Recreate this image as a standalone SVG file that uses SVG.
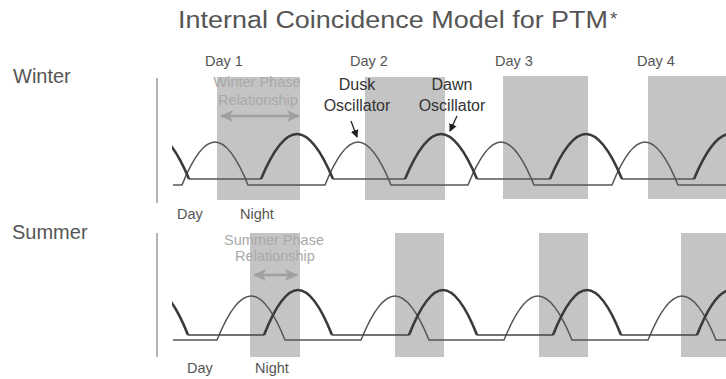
<svg xmlns="http://www.w3.org/2000/svg" width="726" height="379" viewBox="0 0 726 379">
<style>
text{font-family:"Liberation Sans",Arial,Helvetica,sans-serif;}
.lbl{fill:#555;}
.day{fill:#555;font-size:14.5px;}
.osc{fill:#333;font-size:16px;text-anchor:middle;}
.phase{fill:#a9a9a9;font-size:14.5px;text-anchor:middle;}
.night{fill:#c4c4c4;}
.axis{stroke:#9a9a9a;stroke-width:1.5;fill:none;}
.thin{stroke:#555;stroke-width:1.5;fill:none;}
.thick{stroke:#3a3a3a;stroke-width:2.6;fill:none;}
.base{stroke:#444;stroke-width:1.6;fill:none;}
.parrow{stroke:#a0a0a0;stroke-width:2.5;fill:none;}
.oarrow{stroke:#222;stroke-width:1.3;fill:none;}
</style>
<defs>
<clipPath id="plot"><rect x="172" y="0" width="554" height="379"/></clipPath>
<marker id="ph" markerUnits="userSpaceOnUse" markerWidth="14" markerHeight="12" refX="12" refY="6" orient="auto-start-reverse">
<path d="M0,0 L13,6 L0,12 L3,6 Z" fill="#a0a0a0"/>
</marker>
<marker id="oh" markerUnits="userSpaceOnUse" markerWidth="8" markerHeight="8" refX="7" refY="4" orient="auto">
<path d="M0,0 L8,4 L0,8 Z" fill="#222"/>
</marker>
</defs>
<rect width="726" height="379" fill="#ffffff"/>

<g id="title">
<text x="178" y="28" font-size="23" textLength="430" lengthAdjust="spacingAndGlyphs" class="lbl">Internal Coincidence Model for PTM</text>
<text x="610" y="25" font-size="19" class="lbl">*</text>
</g>

<g id="season-labels">
<text x="13" y="83" font-size="20" class="lbl">Winter</text>
<text x="12" y="239" font-size="20" class="lbl">Summer</text>
</g>

<g id="day-labels">
<text x="205" y="66" class="day">Day 1</text>
<text x="350" y="66" class="day">Day 2</text>
<text x="495" y="66" class="day">Day 3</text>
<text x="637" y="66" class="day">Day 4</text>
</g>

<g id="winter-nights">
<rect class="night" x="217" y="77" width="83" height="123"/>
<rect class="night" x="365" y="77" width="80" height="123"/>
<rect class="night" x="503" y="76" width="85" height="123"/>
<rect class="night" x="648" y="76" width="85" height="123"/>
</g>

<g id="summer-nights">
<rect class="night" x="250" y="233" width="50" height="124"/>
<rect class="night" x="395" y="233" width="49" height="124"/>
<rect class="night" x="539" y="233" width="49" height="124"/>
<rect class="night" x="681" y="233" width="50" height="124"/>
</g>

<g id="axes">
<line class="axis" x1="157" y1="78" x2="157" y2="203"/>
<line class="axis" x1="157" y1="233" x2="157" y2="357"/>
</g>

<g id="winter-phase">
<text class="phase" x="257" y="87">Winter Phase</text>
<text class="phase" x="258" y="105">Relationship</text>
</g>
<g id="summer-phase">
<text class="phase" x="274" y="245">Summer Phase</text>
<text class="phase" x="275" y="261">Relationship</text>
</g>

<g id="dusk-label">
<text class="osc" x="357" y="90">Dusk</text>
<text class="osc" x="357" y="111">Oscillator</text>
</g>
<g id="dawn-label">
<text class="osc" x="452" y="90">Dawn</text>
<text class="osc" x="452" y="111">Oscillator</text>
</g>

<g id="winter-day-night">
<text class="day" x="177" y="219">Day</text>
<text class="day" x="240" y="219">Night</text>
</g>
<g id="summer-day-night">
<text class="day" x="187" y="373">Day</text>
<text class="day" x="255" y="373">Night</text>
</g>

<g id="oscillators" clip-path="url(#plot)">
<path id="winter-dusk" class="thin" d="M173,185 H182 C205.1,127.7 224.9,127.7 248,185 H325 C348.1,127.7 367.9,127.7 391,185 H468 C491.1,127.7 510.9,127.7 534,185 H612 C635.1,127.7 654.9,127.7 678,185 H726"/>
<path id="winter-dawn-base" class="thin" d="M189,179 H261 M333,179 H405 M477,179 H550 M622,179 H694"/>
<path id="winter-dawn" class="thick" d="M117,179 C142.2,119 163.8,119 189,179 M261,179 C286.2,119 307.8,119 333,179 M405,179 C430.2,119 451.8,119 477,179 M550,179 C575.2,119 596.8,119 622,179 M694,179 C719.2,119 740.8,119 766,179"/>
<path id="summer-dusk" class="thin" d="M173,340 H217 C240.8,281.3 261.2,281.3 285,340 H361 C384.8,281.3 405.2,281.3 429,340 H504 C527.8,281.3 548.2,281.3 572,340 H648 C671.8,281.3 692.2,281.3 716,340 H726"/>
<path id="summer-dawn-base" class="base" d="M188,335 H264 M332,335 H409 M477,335 H553 M621,335 H697"/>
<path id="summer-dawn" class="thick" d="M120,335 C143.8,275 164.2,275 188,335 M264,335 C287.8,275 308.2,275 332,335 M409,335 C432.8,275 453.2,275 477,335 M553,335 C576.8,275 597.2,275 621,335 M697,335 C720.8,275 741.2,275 765,335"/>
</g>

<g id="connectors">
<line class="parrow" x1="221" y1="116" x2="299" y2="116" marker-start="url(#ph)" marker-end="url(#ph)"/>
<line class="parrow" x1="254" y1="275" x2="297" y2="275" marker-start="url(#ph)" marker-end="url(#ph)"/>
<line class="oarrow" x1="351" y1="121" x2="357" y2="137" marker-end="url(#oh)"/>
<line class="oarrow" x1="457" y1="116" x2="450" y2="131" marker-end="url(#oh)"/>
</g>
</svg>
